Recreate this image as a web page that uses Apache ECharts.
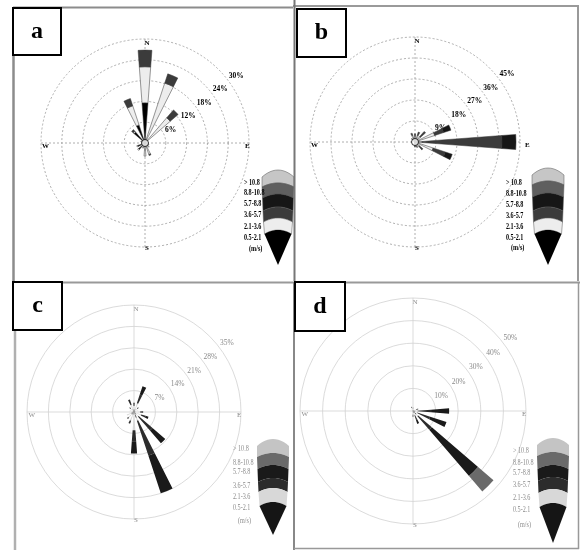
<!DOCTYPE html>
<html>
<head>
<meta charset="utf-8">
<script src="https://cdn.jsdelivr.net/npm/echarts@6/dist/echarts.min.js"></script>
<style>html,body{margin:0;background:#fff}#root{width:580px;height:550px}</style>
</head>
<body>
<div id="root"></div>
<script>
// wind directions and speed classes (m/s)
var dirs = ['N','NNE','NE','ENE','E','ESE','SE','SSE','S','SSW','SW','WSW','W','WNW','NW','NNW'];
var bins = ['0.5-2.1','2.1-3.6','3.6-5.7','5.7-8.8','8.8-10.8','> 10.8'];

// frequency (%) per direction, columns follow bins
var roseA = [
  [11.6,10.4,4.8,0,0,0],[0.8,17.4,2.8,0,0,0],[0.8,8.8,3.0,0,0,0],[0.3,0.4,0,0,0,0],
  [0.3,0.3,0,0,0,0],[0.4,0.8,0,0,0,0],[0.4,1.2,0,0,0,0],[0.5,3.0,0.3,0,0,0],
  [0.8,3.0,0,0,0,0],[0.6,1.0,0,0,0,0],[2.5,0.3,0,0,0,0],[2.2,0.3,0,0,0,0],
  [0.8,0,0,0,0,0],[1.0,0.3,0,0,0,0],[4.2,0.3,0.6,0,0,0],[5.5,5.8,2.2,0,0,0]
];
var roseB = [
  [1.0,1.5,1.0,0,0,0],[1.0,2.0,1.5,0,0,0],[0.5,2.5,3.0,0,0,0],[1.0,7.9,4.0,3.3,0,0],
  [0.5,2.5,34.3,6.0,0,0],[1.0,7.2,5.5,3.1,0,0],[0.5,2.0,2.0,0,0,0],[0.5,1.5,0.5,0,0,0],
  [0.5,1.2,0.5,0,0,0],[0.3,0.5,0,0,0,0],[0.3,0.3,0,0,0,0],[0.2,0.2,0,0,0,0],
  [0.3,0,0,0,0,0],[0.3,0.3,0,0,0,0],[0.5,1.0,0.5,0,0,0],[1.5,1.5,1.0,0,0,0]
];
var roseC = [
  [0.5,1.5,1.0,0,0,0],[1.0,2.0,3.0,2.9,0,0],[0.5,1.0,0.5,0,0,0],[0.5,1.0,0,0,0,0],
  [0.5,1.5,1.0,0,0,0],[0.5,2.0,1.5,1.0,0,0],[1.0,1.0,6.0,5.5,0,0],[2.0,1.0,12.0,13.0,0,0],
  [0.5,5.5,3.6,4.0,0,0],[1.0,2.0,1.0,0,0,0],[1.0,1.5,0.5,0,0,0],[1.0,1.5,0,0,0,0],
  [0.5,1.0,0,0,0,0],[0.5,1.0,0,0,0,0],[0.5,1.0,0.5,0,0,0],[1.0,1.5,1.8,0,0,0]
];
var roseD = [
  [0.5,0.5,0.5,0,0,0],[0.3,0.3,0,0,0,0],[0.3,0.5,0,0,0,0],[0.5,1.0,1.0,0,0,0],
  [1.0,1.0,6.0,8.0,0,0],[1.0,1.0,6.0,7.6,0,0],[2.0,1.0,8.0,27.0,9.0,0],[1.0,1.0,2.0,2.0,0,0],
  [0.5,1.0,1.0,0,0,0],[0.5,0.5,0,0,0,0],[0.3,0.3,0,0,0,0],[0.2,0,0,0,0,0],
  [0.3,0,0,0,0,0],[0.3,0.3,0,0,0,0],[0.5,0.5,0,0,0,0],[0.5,1.0,0.5,0,0,0]
];
// ring tick values
var ringsA = [6,12,18,24,30];
var ringsB = [9,18,27,36,45];
var ringsC = [7,14,21,28,35];
var ringsD = [10,20,30,40,50];
var compass = {0:'N',90:'E',180:'S',270:'W'};

var binColors = ['#000000','#ededed','#3b3b3b','#161616','#5f5f5f','#c6c6c6'];
var fadedColors = ['#151515','#d8d8d8','#2c2c2c','#1a1a1a','#6a6a6a','#c4c4c4'];
var serif = '"Liberation Serif","DejaVu Serif",serif';

var panels = [
  {rose:roseA, rings:ringsA, letter:'a', center:[145,143], radius:104, faded:false, eastOut:false,
   box:[13,8,48,47], lx:278, ly:[170,183,194,207,218,230,265], tx:244, ty:[183,193.5,204,215.5,227,238,249]},
  {rose:roseB, rings:ringsB, letter:'b', center:[415,142], radius:105, faded:false, eastOut:true,
   box:[297,9,49,48], lx:548, ly:[168,181,193,207,218,230,265], tx:506, ty:[182.7,194.3,205,215.7,226.7,237.7,248.3]},
  {rose:roseC, rings:ringsC, letter:'c', center:[134,412], radius:107, faded:true, eastOut:false,
   box:[13,282,49,48], lx:273, ly:[439,453,465,478,488,502,535], tx:233, ty:[449,462.7,472,485.7,496.7,508,520.7]},
  {rose:roseD, rings:ringsD, letter:'d', center:[413,411], radius:113, faded:true, eastOut:false,
   box:[295,282,50,49], lx:553, ly:[438,452,465,477,489,503,543], tx:513, ty:[450.7,462.7,472.7,485,498.3,510,525]}
];

var polar = [], angleAxis = [], radiusAxis = [], series = [], graphic = [];

panels.forEach(function (p, k) {
  var max = p.rings[p.rings.length - 1], step = p.rings[0];
  var gridColor = p.faded ? '#d2d2d2' : '#9a9a9a';
  var gridType = p.faded ? 'solid' : [2, 2];
  var txtColor = p.faded ? '#8a8a8a' : '#000';
  var txtWeight = p.faded ? 'normal' : 'bold';
  // 3 polars per panel: petals, compass cross, ring labels
  for (var i = 0; i < 3; i++) polar.push({center: p.center, radius: p.radius});

  angleAxis.push({polarIndex:k*3, type:'category', data:dirs, startAngle:101.25, clockwise:true,
    axisLine:{show:false}, axisTick:{show:false}, axisLabel:{show:false}, splitLine:{show:false}});
  radiusAxis.push({polarIndex:k*3, min:0, max:max, interval:step,
    axisLine:{show:false}, axisTick:{show:false}, axisLabel:{show:false},
    splitLine:{show:true, lineStyle:{color:gridColor, width:0.8, type:gridType}}});

  angleAxis.push({polarIndex:k*3+1, type:'value', min:0, max:360, interval:90, startAngle:90, clockwise:true,
    axisLine:{show:false}, axisTick:{show:false},
    axisLabel:{margin:-8, color:txtColor, fontFamily:serif, fontWeight:txtWeight, fontSize:7, padding:[6,0,0,4],
      rich:{out:{padding:[0,0,0,9], color:txtColor, fontFamily:serif, fontWeight:txtWeight, fontSize:7}},
      formatter:function (v) {
        if (v === 90 && p.eastOut) return '{out|E}';
        return compass[v] || '';
      }},
    splitLine:{show:true, lineStyle:{color:gridColor, width:0.8, type:gridType}}});
  radiusAxis.push({polarIndex:k*3+1, min:0, max:max, show:false});

  angleAxis.push({polarIndex:k*3+2, type:'value', min:0, max:360, startAngle:40, show:false});
  radiusAxis.push({polarIndex:k*3+2, min:0, max:max, interval:step,
    axisLine:{show:false}, axisTick:{show:false}, splitLine:{show:false},
    axisLabel:{showMinLabel:false, formatter:'{value}%', color:txtColor, fontFamily:serif,
      fontWeight:txtWeight, fontSize:7.5, margin:0, align:'left', verticalAlign:'middle', padding:[0,0,6,4]}});

  bins.forEach(function (b, j) {
    series.push({
      type:'bar', coordinateSystem:'polar', polarIndex:k*3, stack:'p'+k, name:b,
      barWidth:'38%', silent:true,
      data:p.rose.map(function (r) { return r[j] > 0 ? r[j] : null; }),
      itemStyle:{color:p.faded ? fadedColors[j] : binColors[j],
        borderColor:p.faded ? 'rgba(0,0,0,0)' : '#333', borderWidth:p.faded ? 0 : 0.5}
    });
  });
  if (!p.faded) {
    series.push({type:'scatter', coordinateSystem:'polar', polarIndex:k*3, data:[[0,'N']],
      symbolSize:7, silent:true, z:5, itemStyle:{color:'#fff', borderColor:'#000', borderWidth:1}});
  }

  // speed legend: stacked bands with a black cone at the bottom
  var halfW = [16,16,15.5,15,14.5,13.5], sag = [7,4,4,4,4,4];
  function edge(y, w, s, rev) {
    var pts = [];
    for (var n = 0; n <= 12; n++) {
      var t = -1 + 2 * (rev ? 12 - n : n) / 12;
      pts.push([p.lx + t * w, y + s * t * t]);
    }
    return pts;
  }
  var legendColors = p.faded ? fadedColors : binColors;
  for (var m = 0; m < 5; m++) {
    graphic.push({type:'polygon', silent:true,
      shape:{points:edge(p.ly[m], halfW[m], sag[m]).concat(edge(p.ly[m+1], halfW[m+1], sag[m+1], true))},
      style:{fill:legendColors[5 - m], stroke:p.faded ? 'rgba(0,0,0,0)' : '#555', lineWidth:0.5}});
  }
  graphic.push({type:'polygon', silent:true,
    shape:{points:edge(p.ly[5], halfW[5], sag[5]).concat([[p.lx, p.ly[6]]])},
    style:{fill:legendColors[0]}});
  var legendText = bins.slice().reverse().concat(['(m/s)']);
  legendText.forEach(function (t, n) {
    graphic.push({type:'text', silent:true, z:3, x:p.tx + (n === 6 ? 5 : 0), y:p.ty[n], scaleX:0.82,
      style:{text:t, fill:txtColor, font:txtWeight + ' 7.5px ' + serif, textAlign:'left', textVerticalAlign:'middle'}});
  });

  // panel letter box
  graphic.push({type:'rect', silent:true, z:10, shape:{x:p.box[0], y:p.box[1], width:p.box[2], height:p.box[3]},
    style:{fill:'#fff', stroke:'#000', lineWidth:2}});
  graphic.push({type:'text', silent:true, z:11, x:p.box[0] + p.box[2] / 2, y:p.box[1] + p.box[3] / 2,
    style:{text:p.letter, fill:'#000', font:'bold 24px ' + serif, textAlign:'center', textVerticalAlign:'middle'}});
});

// panel frames
[
  [13,7.5,293,7.5,'#8c8c8c',2], [13.5,54,13.5,281,'#8c8c8c',2.5],
  [293,6,579,6,'#9a9a9a',2], [294.5,0,294.5,281,'#777',2], [578,6,578,281,'#999',2],
  [13,282.5,580,282.5,'#999',2], [15,330,15,550,'#b0b0b0',2.5],
  [294,282,294,550,'#888',2], [578.5,282,578.5,549,'#999',1.5], [294,548.5,579,548.5,'#999',1.5]
].forEach(function (l) {
  graphic.push({type:'line', silent:true, z:9, shape:{x1:l[0], y1:l[1], x2:l[2], y2:l[3]},
    style:{stroke:l[4], lineWidth:l[5]}});
});

var chart = echarts.init(document.getElementById('root'));
chart.setOption({
  animation:false,
  backgroundColor:'#fff',
  polar:polar, angleAxis:angleAxis, radiusAxis:radiusAxis,
  series:series, graphic:graphic
});
</script>
</body>
</html>
